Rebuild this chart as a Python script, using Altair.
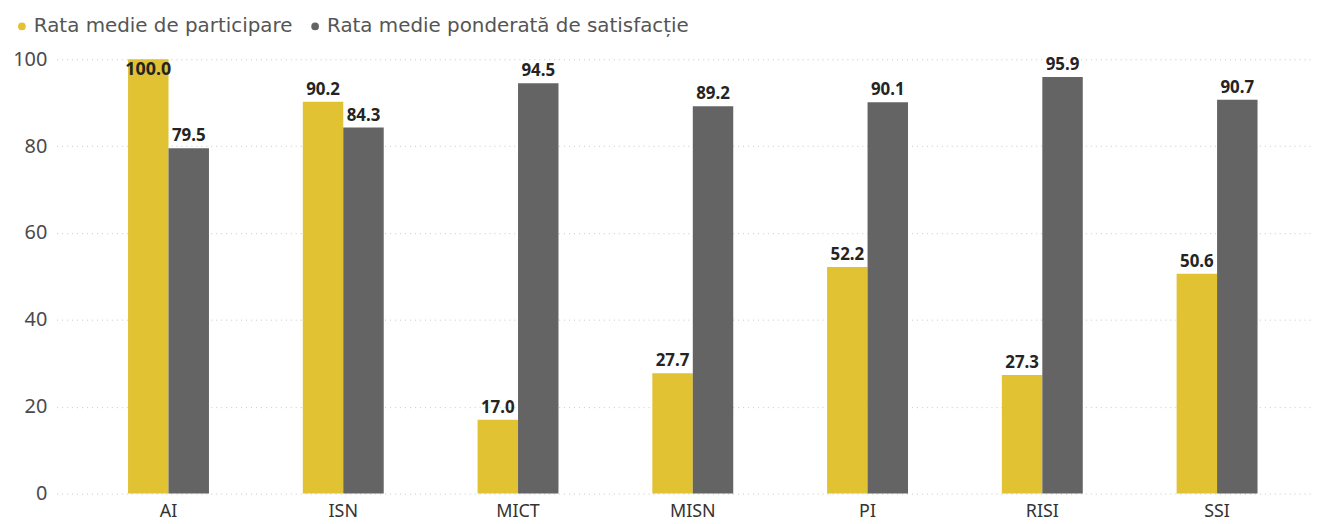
import altair as alt
import pandas as pd

categories = ["AI", "ISN", "MICT", "MISN", "PI", "RISI", "SSI"]
series_names = ["Rata medie de participare", "Rata medie ponderată de satisfacție"]
participare = [100.0, 90.2, 17.0, 27.7, 52.2, 27.3, 50.6]
satisfactie = [79.5, 84.3, 94.5, 89.2, 90.1, 95.9, 90.7]
colors = ["#E0C232", "#646464"]

rows = []
for c, p, s in zip(categories, participare, satisfactie):
    rows.append({"cat": c, "serie": series_names[0], "val": p})
    rows.append({"cat": c, "serie": series_names[1], "val": s})
df = pd.DataFrame(rows)

FONT = "Noto Sans"

x = alt.X("cat:N", sort=categories, title=None,
          scale=alt.Scale(paddingInner=0.537, paddingOuter=0.36, align=0.567),
          axis=alt.Axis(labelAngle=0, labelFontSize=18, labelColor="#333333",
                        labelFont=FONT, domain=False, ticks=False, labelPadding=9,
                        grid=False))
xo = alt.XOffset("serie:N", sort=series_names)
y = alt.Y("val:Q", title=None, scale=alt.Scale(domain=[0, 100], nice=False),
          axis=alt.Axis(values=[0, 20, 40, 60, 80, 100], labelFontSize=20,
                        labelColor="#4A4A4A", labelFont=FONT, domain=False,
                        ticks=False, labelPadding=10, grid=True,
                        gridColor="#C8C6C4", gridDash=[1, 4], gridWidth=1))

base = alt.Chart(df)

bars = base.mark_bar().encode(
    x=x, xOffset=xo, y=y,
    color=alt.Color("serie:N", sort=series_names,
                    scale=alt.Scale(domain=series_names, range=colors),
                    legend=alt.Legend(title=None, orient="none", direction="horizontal",
                                      legendX=-45, legendY=-43,
                                      symbolType="circle", symbolSize=60,
                                      labelFontSize=20, labelFont="DejaVu Sans", labelLimit=0,
                                      labelColor="#555555", symbolOffset=0,
                                      columnPadding=12, labelOffset=2))
)

lab_out = base.transform_filter("datum.val < 97").mark_text(
    baseline="bottom", dy=-3, fontSize=17, fontWeight="bold", font=FONT, color="#252423"
).encode(x=x, xOffset=xo, y=y, text=alt.Text("val:Q", format=".1f"))

lab_in = base.transform_filter("datum.val >= 97").mark_text(
    baseline="top", dy=2, fontSize=18, fontWeight="bold", font=FONT, color="#252423"
).encode(x=x, xOffset=xo, y=y, text=alt.Text("val:Q", format=".1f"))

chart = alt.layer(bars, lab_out, lab_in).properties(
    width=1263, height=437,
    autosize=alt.AutoSizeParams(type="none"),
    padding={"left": 49, "top": 50, "right": 3, "bottom": 30},
).configure_view(stroke=None)

chart.save("out.html", embed_options={"renderer": "svg", "actions": False})
